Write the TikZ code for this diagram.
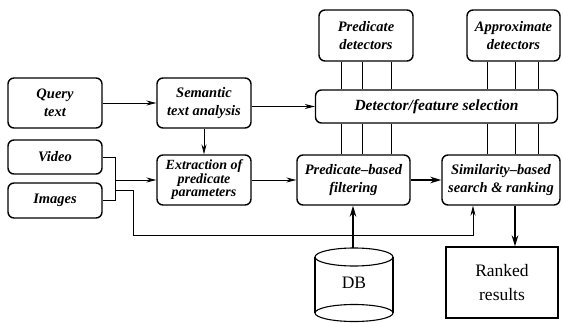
\documentclass[tikz,border=0pt]{standalone}
\usepackage{fontspec}
\setmainfont{Liberation Serif}
\usetikzlibrary{arrows.meta,calc}
\begin{document}
\begin{tikzpicture}[x=1pt,y=-1pt,
  box/.style={draw,line width=1.4pt,rounded corners=6pt,align=center,inner sep=0pt,
    font=\fontsize{14.5}{17.5}\selectfont\bfseries\itshape},
  conn/.style={line width=0.8pt},
  arr/.style={line width=0.8pt,-{Stealth[length=10pt,width=5pt]}},
  thickarr/.style={line width=2pt,-{Stealth[length=11pt,width=6.5pt]}}]
\useasboundingbox (0,0) rectangle (563,322);

% boxes
\node[box,minimum width=94pt,minimum height=50pt] (qt)  at (55,103)   {Query\\text};
\node[box,minimum width=94pt,minimum height=50pt] (sta) at (204,103)  {Semantic\\text analysis};
\node[box,minimum width=94pt,minimum height=34pt] (vid) at (55,157)   {Video};
\node[box,minimum width=94pt,minimum height=35pt] (img) at (55,200.5) {Images};
\node[box,minimum width=94pt,minimum height=50pt,
      font=\fontsize{14}{13.5}\selectfont\bfseries\itshape] (ext) at (204,180) {Extraction of\\predicate\\parameters};
\node[box,minimum width=94pt,minimum height=51pt] (pd)  at (366,35.5) {Predicate\\detectors};
\node[box,minimum width=93pt,minimum height=51pt] (ad)  at (513.5,35.5) {Approximate\\detectors};
\node[box,minimum width=242pt,minimum height=33pt,
      font=\fontsize{15.5}{18}\selectfont\bfseries\itshape] (dfs) at (436.5,106.5) {Detector/feature selection};
\node[box,minimum width=113pt,minimum height=50pt] (pf)  at (353.5,180) {Predicate--based\\filtering};
\node[box,minimum width=118pt,minimum height=50pt] (sim) at (501,180)  {Similarity--based\\search \& ranking};
\node[draw,line width=1.1pt,minimum width=112pt,minimum height=71pt,align=center,
      font=\fontsize{17.5}{24}\selectfont] (rr) at (502,282.5) {Ranked\\results};

% database cylinder
\coordinate (dbtop) at (353,248);
\draw[line width=1.1pt] (315,257) -- (315,313) (393,257) -- (393,313);
\draw[line width=1.1pt] (354,257) ellipse [x radius=39pt,y radius=9pt];
\draw[line width=1.1pt] (354,313) ellipse [x radius=39pt,y radius=8.5pt];
\node[font=\fontsize{17.5}{20}\selectfont] (db) at (354,283) {DB};

% detector buses
\foreach \xx in {341,362,391}{
  \draw[conn] (pd.south -| \xx,0) -- (dfs.north -| \xx,0);
  \draw[conn] (dfs.south -| \xx,0) -- (pf.north -| \xx,0);
}
\foreach \xx in {487,515,538}{
  \draw[conn] (ad.south -| \xx,0) -- (dfs.north -| \xx,0);
  \draw[conn] (dfs.south -| \xx,0) -- (sim.north -| \xx,0);
}

% connectors
\draw[arr] (qt.east) -- (sta.west);
\draw[arr] (dfs.west -| sta.east) -- (dfs.west);
\draw[arr] (sta.south) -- (ext.north);
\coordinate (bk) at (115,180);
\draw[conn] (vid.east) -| (bk |- img.east) -- (img.east);
\draw[arr] (bk) -- (ext.west);
\draw[arr] (ext.east) -- (pf.west);
\draw[thickarr] (pf.east) -- (sim.west);
\coordinate (by) at (115,190);
\draw[arr] (by) -- (133,190) -- (133,235) -| (sim.south -| 473,0);
\draw[thickarr] (dbtop) -- (pf.south -| dbtop);
\draw[thickarr] (sim.south -| 515,0) -- (rr.north -| 515,0);
\end{tikzpicture}
\end{document}
